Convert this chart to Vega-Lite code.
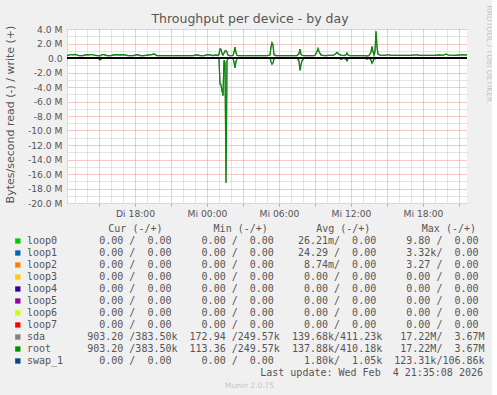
{
  "$schema": "https://vega.github.io/schema/vega-lite/v6.json",
  "background": "#F0F0F0",
  "padding": {"left": 3, "top": 5, "right": 0, "bottom": 0},
  "spacing": 5,
  "config": {
    "view": {"stroke": null},
    "font": "DejaVu Sans",
    "axis": {"labelFont": "DejaVu Sans", "titleFont": "DejaVu Sans", "labelColor": "#555555", "titleColor": "#555555"},
    "locale": {
      "number": {"decimal": ".", "thousands": ",", "grouping": [3], "currency": ["", " M"], "minus": "-"},
      "time": {"dateTime": "%A, %e. %B %Y, %X", "date": "%d.%m.%Y", "time": "%H:%M:%S", "periods": ["AM", "PM"],
        "days": ["Sonntag", "Montag", "Dienstag", "Mittwoch", "Donnerstag", "Freitag", "Samstag"],
        "shortDays": ["So", "Mo", "Di", "Mi", "Do", "Fr", "Sa"],
        "months": ["Januar", "Februar", "März", "April", "Mai", "Juni", "Juli", "August", "September", "Oktober", "November", "Dezember"],
        "shortMonths": ["Jan", "Feb", "Mrz", "Apr", "Mai", "Jun", "Jul", "Aug", "Sep", "Okt", "Nov", "Dez"]}
    }
  },
  "datasets": {
    "ioRows": [
      {"t": "2026-02-03T12:20:00Z", "read": -0.02, "write": 0.33},
      {"t": "2026-02-03T12:40:00Z", "read": -0.03, "write": 0.48},
      {"t": "2026-02-03T12:50:00Z", "read": -0.02, "write": 0.43},
      {"t": "2026-02-03T13:00:00Z", "read": -0.02, "write": 0.50},
      {"t": "2026-02-03T13:10:00Z", "read": -0.02, "write": 0.42},
      {"t": "2026-02-03T13:20:00Z", "read": -0.02, "write": 0.33},
      {"t": "2026-02-03T13:40:00Z", "read": -0.02, "write": 0.34},
      {"t": "2026-02-03T13:55:00Z", "read": -0.03, "write": 0.47},
      {"t": "2026-02-03T14:10:00Z", "read": -0.02, "write": 0.44},
      {"t": "2026-02-03T14:25:00Z", "read": -0.02, "write": 0.48},
      {"t": "2026-02-03T14:40:00Z", "read": -0.02, "write": 0.35},
      {"t": "2026-02-03T14:55:00Z", "read": -0.02, "write": 0.33},
      {"t": "2026-02-03T15:05:00Z", "read": -0.28, "write": 0.30},
      {"t": "2026-02-03T15:15:00Z", "read": -0.03, "write": 0.45},
      {"t": "2026-02-03T15:25:00Z", "read": -0.02, "write": 0.46},
      {"t": "2026-02-03T15:40:00Z", "read": -0.02, "write": 0.33},
      {"t": "2026-02-03T16:00:00Z", "read": -0.02, "write": 0.33},
      {"t": "2026-02-03T16:20:00Z", "read": -0.02, "write": 0.46},
      {"t": "2026-02-03T16:35:00Z", "read": -0.02, "write": 0.42},
      {"t": "2026-02-03T16:50:00Z", "read": -0.02, "write": 0.47},
      {"t": "2026-02-03T17:05:00Z", "read": -0.02, "write": 0.44},
      {"t": "2026-02-03T17:25:00Z", "read": -0.02, "write": 0.33},
      {"t": "2026-02-03T17:50:00Z", "read": -0.02, "write": 0.33},
      {"t": "2026-02-03T18:15:00Z", "read": -0.03, "write": 0.47},
      {"t": "2026-02-03T18:25:00Z", "read": -0.02, "write": 0.34},
      {"t": "2026-02-03T18:45:00Z", "read": -0.02, "write": 0.33},
      {"t": "2026-02-03T19:10:00Z", "read": -0.02, "write": 0.43},
      {"t": "2026-02-03T19:25:00Z", "read": -0.02, "write": 0.46},
      {"t": "2026-02-03T19:35:00Z", "read": -0.02, "write": 0.55},
      {"t": "2026-02-03T19:50:00Z", "read": -0.02, "write": 0.34},
      {"t": "2026-02-03T20:20:00Z", "read": -0.02, "write": 0.33},
      {"t": "2026-02-03T20:50:00Z", "read": -0.02, "write": 0.33},
      {"t": "2026-02-03T21:20:00Z", "read": -0.02, "write": 0.33},
      {"t": "2026-02-03T21:50:00Z", "read": -0.02, "write": 0.34},
      {"t": "2026-02-03T22:20:00Z", "read": -0.02, "write": 0.33},
      {"t": "2026-02-03T22:50:00Z", "read": -0.02, "write": 0.33},
      {"t": "2026-02-03T23:10:00Z", "read": -0.02, "write": 0.42},
      {"t": "2026-02-03T23:25:00Z", "read": -0.02, "write": 0.33},
      {"t": "2026-02-03T23:45:00Z", "read": -0.02, "write": 0.33},
      {"t": "2026-02-04T00:00:00Z", "read": -0.02, "write": 0.42},
      {"t": "2026-02-04T00:15:00Z", "read": -0.02, "write": 0.43},
      {"t": "2026-02-04T00:30:00Z", "read": -0.02, "write": 0.34},
      {"t": "2026-02-04T00:45:00Z", "read": -0.02, "write": 0.42},
      {"t": "2026-02-04T00:55:00Z", "read": -0.03, "write": 0.35},
      {"t": "2026-02-04T01:00:00Z", "read": -0.10, "write": 0.50},
      {"t": "2026-02-04T01:05:00Z", "read": -3.60, "write": 1.25},
      {"t": "2026-02-04T01:10:00Z", "read": -3.70, "write": 1.20},
      {"t": "2026-02-04T01:15:00Z", "read": -4.50, "write": 0.60},
      {"t": "2026-02-04T01:20:00Z", "read": -5.20, "write": 0.40},
      {"t": "2026-02-04T01:25:00Z", "read": -0.30, "write": 0.70},
      {"t": "2026-02-04T01:30:00Z", "read": -0.60, "write": 0.95},
      {"t": "2026-02-04T01:35:00Z", "read": -17.22, "write": 1.00},
      {"t": "2026-02-04T01:40:00Z", "read": -0.40, "write": 0.80},
      {"t": "2026-02-04T01:45:00Z", "read": -0.06, "write": 0.40},
      {"t": "2026-02-04T01:50:00Z", "read": -0.03, "write": 0.33},
      {"t": "2026-02-04T02:00:00Z", "read": -0.02, "write": 0.33},
      {"t": "2026-02-04T02:10:00Z", "read": -0.02, "write": 0.34},
      {"t": "2026-02-04T02:15:00Z", "read": -0.60, "write": 0.80},
      {"t": "2026-02-04T02:20:00Z", "read": -1.38, "write": 1.50},
      {"t": "2026-02-04T02:25:00Z", "read": -0.50, "write": 0.70},
      {"t": "2026-02-04T02:30:00Z", "read": -0.04, "write": 0.34},
      {"t": "2026-02-04T02:40:00Z", "read": -0.02, "write": 0.33},
      {"t": "2026-02-04T03:00:00Z", "read": -0.02, "write": 0.33},
      {"t": "2026-02-04T03:30:00Z", "read": -0.02, "write": 0.34},
      {"t": "2026-02-04T04:00:00Z", "read": -0.02, "write": 0.33},
      {"t": "2026-02-04T04:30:00Z", "read": -0.02, "write": 0.34},
      {"t": "2026-02-04T05:00:00Z", "read": -0.02, "write": 0.33},
      {"t": "2026-02-04T05:15:00Z", "read": -0.05, "write": 0.40},
      {"t": "2026-02-04T05:20:00Z", "read": -0.50, "write": 1.50},
      {"t": "2026-02-04T05:25:00Z", "read": -0.85, "write": 2.10},
      {"t": "2026-02-04T05:30:00Z", "read": -0.70, "write": 1.80},
      {"t": "2026-02-04T05:35:00Z", "read": -0.08, "write": 0.45},
      {"t": "2026-02-04T05:45:00Z", "read": -0.02, "write": 0.33},
      {"t": "2026-02-04T06:10:00Z", "read": -0.02, "write": 0.33},
      {"t": "2026-02-04T06:40:00Z", "read": -0.02, "write": 0.34},
      {"t": "2026-02-04T07:10:00Z", "read": -0.02, "write": 0.33},
      {"t": "2026-02-04T07:30:00Z", "read": -0.02, "write": 0.34},
      {"t": "2026-02-04T07:40:00Z", "read": -0.40, "write": 0.60},
      {"t": "2026-02-04T07:45:00Z", "read": -1.72, "write": 1.24},
      {"t": "2026-02-04T07:50:00Z", "read": -0.90, "write": 0.50},
      {"t": "2026-02-04T07:55:00Z", "read": -0.40, "write": 0.38},
      {"t": "2026-02-04T08:05:00Z", "read": -0.02, "write": 0.34},
      {"t": "2026-02-04T08:25:00Z", "read": -0.02, "write": 0.33},
      {"t": "2026-02-04T08:50:00Z", "read": -0.02, "write": 0.33},
      {"t": "2026-02-04T09:00:00Z", "read": -0.02, "write": 0.36},
      {"t": "2026-02-04T09:10:00Z", "read": -0.06, "write": 0.90},
      {"t": "2026-02-04T09:15:00Z", "read": -0.03, "write": 1.29},
      {"t": "2026-02-04T09:20:00Z", "read": -0.02, "write": 0.90},
      {"t": "2026-02-04T09:30:00Z", "read": -0.02, "write": 0.40},
      {"t": "2026-02-04T09:50:00Z", "read": -0.02, "write": 0.34},
      {"t": "2026-02-04T10:10:00Z", "read": -0.02, "write": 0.36},
      {"t": "2026-02-04T10:30:00Z", "read": -0.02, "write": 0.35},
      {"t": "2026-02-04T10:40:00Z", "read": -0.02, "write": 0.50},
      {"t": "2026-02-04T10:50:00Z", "read": -0.02, "write": 0.78},
      {"t": "2026-02-04T11:00:00Z", "read": -0.02, "write": 0.50},
      {"t": "2026-02-04T11:10:00Z", "read": -0.15, "write": 0.40},
      {"t": "2026-02-04T11:15:00Z", "read": -0.12, "write": 0.38},
      {"t": "2026-02-04T11:25:00Z", "read": -0.02, "write": 0.34},
      {"t": "2026-02-04T11:35:00Z", "read": -0.15, "write": 0.45},
      {"t": "2026-02-04T11:40:00Z", "read": -0.37, "write": 0.69},
      {"t": "2026-02-04T11:45:00Z", "read": -0.10, "write": 0.40},
      {"t": "2026-02-04T11:55:00Z", "read": -0.02, "write": 0.34},
      {"t": "2026-02-04T12:10:00Z", "read": -0.02, "write": 0.33},
      {"t": "2026-02-04T12:30:00Z", "read": -0.02, "write": 0.34},
      {"t": "2026-02-04T12:50:00Z", "read": -0.02, "write": 0.34},
      {"t": "2026-02-04T13:10:00Z", "read": -0.02, "write": 0.34},
      {"t": "2026-02-04T13:20:00Z", "read": -0.15, "write": 0.30},
      {"t": "2026-02-04T13:30:00Z", "read": -0.02, "write": 0.33},
      {"t": "2026-02-04T13:40:00Z", "read": -0.30, "write": 0.80},
      {"t": "2026-02-04T13:45:00Z", "read": -0.70, "write": 1.60},
      {"t": "2026-02-04T13:50:00Z", "read": -0.50, "write": 0.90},
      {"t": "2026-02-04T13:55:00Z", "read": -0.10, "write": 0.40},
      {"t": "2026-02-04T14:00:00Z", "read": -0.05, "write": 0.90},
      {"t": "2026-02-04T14:05:00Z", "read": -0.10, "write": 3.67},
      {"t": "2026-02-04T14:10:00Z", "read": -0.04, "write": 1.50},
      {"t": "2026-02-04T14:15:00Z", "read": -0.02, "write": 0.55},
      {"t": "2026-02-04T14:25:00Z", "read": -0.02, "write": 0.38},
      {"t": "2026-02-04T14:45:00Z", "read": -0.02, "write": 0.37},
      {"t": "2026-02-04T15:10:00Z", "read": -0.02, "write": 0.45},
      {"t": "2026-02-04T15:20:00Z", "read": -0.02, "write": 0.37},
      {"t": "2026-02-04T15:35:00Z", "read": -0.02, "write": 0.37},
      {"t": "2026-02-04T16:00:00Z", "read": -0.02, "write": 0.36},
      {"t": "2026-02-04T16:30:00Z", "read": -0.02, "write": 0.37},
      {"t": "2026-02-04T17:00:00Z", "read": -0.02, "write": 0.37},
      {"t": "2026-02-04T17:30:00Z", "read": -0.02, "write": 0.45},
      {"t": "2026-02-04T17:40:00Z", "read": -0.02, "write": 0.37},
      {"t": "2026-02-04T18:00:00Z", "read": -0.02, "write": 0.37},
      {"t": "2026-02-04T18:30:00Z", "read": -0.02, "write": 0.38},
      {"t": "2026-02-04T19:00:00Z", "read": -0.02, "write": 0.37},
      {"t": "2026-02-04T19:20:00Z", "read": -0.02, "write": 0.44},
      {"t": "2026-02-04T19:40:00Z", "read": -0.02, "write": 0.38},
      {"t": "2026-02-04T19:55:00Z", "read": -0.02, "write": 0.52},
      {"t": "2026-02-04T20:10:00Z", "read": -0.02, "write": 0.38},
      {"t": "2026-02-04T20:40:00Z", "read": -0.02, "write": 0.37},
      {"t": "2026-02-04T21:10:00Z", "read": -0.02, "write": 0.42},
      {"t": "2026-02-04T21:40:00Z", "read": -0.02, "write": 0.42}
    ],
    "legendRows": [
      {"row": 1, "swatch": "#00CC00", "line": "loop0\u00a0\u00a0\u00a0\u00a0\u00a0\u00a0\u00a00.00\u00a0/\u00a0\u00a00.00\u00a0\u00a0\u00a0\u00a0\u00a00.00\u00a0/\u00a0\u00a00.00\u00a0\u00a0\u00a0\u00a026.21m/\u00a0\u00a00.00\u00a0\u00a0\u00a0\u00a0\u00a09.80\u00a0/\u00a0\u00a00.00"},
      {"row": 2, "swatch": "#0066B3", "line": "loop1\u00a0\u00a0\u00a0\u00a0\u00a0\u00a0\u00a00.00\u00a0/\u00a0\u00a00.00\u00a0\u00a0\u00a0\u00a0\u00a00.00\u00a0/\u00a0\u00a00.00\u00a0\u00a0\u00a0\u00a024.29\u00a0/\u00a0\u00a00.00\u00a0\u00a0\u00a0\u00a0\u00a03.32k/\u00a0\u00a00.00"},
      {"row": 3, "swatch": "#FF8000", "line": "loop2\u00a0\u00a0\u00a0\u00a0\u00a0\u00a0\u00a00.00\u00a0/\u00a0\u00a00.00\u00a0\u00a0\u00a0\u00a0\u00a00.00\u00a0/\u00a0\u00a00.00\u00a0\u00a0\u00a0\u00a0\u00a08.74m/\u00a0\u00a00.00\u00a0\u00a0\u00a0\u00a0\u00a03.27\u00a0/\u00a0\u00a00.00"},
      {"row": 4, "swatch": "#FFCC00", "line": "loop3\u00a0\u00a0\u00a0\u00a0\u00a0\u00a0\u00a00.00\u00a0/\u00a0\u00a00.00\u00a0\u00a0\u00a0\u00a0\u00a00.00\u00a0/\u00a0\u00a00.00\u00a0\u00a0\u00a0\u00a0\u00a00.00\u00a0/\u00a0\u00a00.00\u00a0\u00a0\u00a0\u00a0\u00a00.00\u00a0/\u00a0\u00a00.00"},
      {"row": 5, "swatch": "#330099", "line": "loop4\u00a0\u00a0\u00a0\u00a0\u00a0\u00a0\u00a00.00\u00a0/\u00a0\u00a00.00\u00a0\u00a0\u00a0\u00a0\u00a00.00\u00a0/\u00a0\u00a00.00\u00a0\u00a0\u00a0\u00a0\u00a00.00\u00a0/\u00a0\u00a00.00\u00a0\u00a0\u00a0\u00a0\u00a00.00\u00a0/\u00a0\u00a00.00"},
      {"row": 6, "swatch": "#990099", "line": "loop5\u00a0\u00a0\u00a0\u00a0\u00a0\u00a0\u00a00.00\u00a0/\u00a0\u00a00.00\u00a0\u00a0\u00a0\u00a0\u00a00.00\u00a0/\u00a0\u00a00.00\u00a0\u00a0\u00a0\u00a0\u00a00.00\u00a0/\u00a0\u00a00.00\u00a0\u00a0\u00a0\u00a0\u00a00.00\u00a0/\u00a0\u00a00.00"},
      {"row": 7, "swatch": "#CCFF00", "line": "loop6\u00a0\u00a0\u00a0\u00a0\u00a0\u00a0\u00a00.00\u00a0/\u00a0\u00a00.00\u00a0\u00a0\u00a0\u00a0\u00a00.00\u00a0/\u00a0\u00a00.00\u00a0\u00a0\u00a0\u00a0\u00a00.00\u00a0/\u00a0\u00a00.00\u00a0\u00a0\u00a0\u00a0\u00a00.00\u00a0/\u00a0\u00a00.00"},
      {"row": 8, "swatch": "#FF0000", "line": "loop7\u00a0\u00a0\u00a0\u00a0\u00a0\u00a0\u00a00.00\u00a0/\u00a0\u00a00.00\u00a0\u00a0\u00a0\u00a0\u00a00.00\u00a0/\u00a0\u00a00.00\u00a0\u00a0\u00a0\u00a0\u00a00.00\u00a0/\u00a0\u00a00.00\u00a0\u00a0\u00a0\u00a0\u00a00.00\u00a0/\u00a0\u00a00.00"},
      {"row": 9, "swatch": "#808080", "line": "sda\u00a0\u00a0\u00a0\u00a0\u00a0\u00a0\u00a0903.20\u00a0/383.50k\u00a0\u00a0172.94\u00a0/249.57k\u00a0\u00a0139.68k/411.23k\u00a0\u00a0\u00a017.22M/\u00a0\u00a03.67M"},
      {"row": 10, "swatch": "#008F00", "line": "root\u00a0\u00a0\u00a0\u00a0\u00a0\u00a0903.20\u00a0/383.50k\u00a0\u00a0113.36\u00a0/249.57k\u00a0\u00a0137.88k/410.18k\u00a0\u00a0\u00a017.22M/\u00a0\u00a03.67M"},
      {"row": 11, "swatch": "#00487D", "line": "swap_1\u00a0\u00a0\u00a0\u00a0\u00a0\u00a00.00\u00a0/\u00a0\u00a00.00\u00a0\u00a0\u00a0\u00a0\u00a00.00\u00a0/\u00a0\u00a00.00\u00a0\u00a0\u00a0\u00a0\u00a01.80k/\u00a0\u00a01.05k\u00a0\u00a0123.31k/106.86k"}
    ],
    "headerRows": [
      {"label": "Cur (-/+)", "col": 13.55, "row": 0},
      {"label": "Min (-/+)", "col": 31.1, "row": 0},
      {"label": "Avg (-/+)", "col": 48.2, "row": 0},
      {"label": "Max (-/+)", "col": 65.8, "row": 0}
    ]
  },
  "vconcat": [
    {
      "width": 400,
      "height": 174,
      "view": {"fill": "#FFFFFF", "stroke": null},
      "title": {"text": "Throughput per device - by day", "font": "DejaVu Sans", "fontSize": 12.5, "fontWeight": "normal", "color": "#555555", "dx": -17, "offset": -20},
      "data": {"name": "ioRows"},
      "layer": [
        {
          "mark": {"type": "line", "color": "#808080", "strokeWidth": 1.2},
          "encoding": {
            "x": {"field": "t", "type": "temporal",
              "scale": {"type": "utc", "domain": [1770121200000, 1770241200000]},
              "axis": {"orient": "bottom", "grid": false, "ticks": false, "domain": false, "title": null,
                "values": [1770141600000, 1770163200000, 1770184800000, 1770206400000, 1770228000000],
                "format": "%a %H:%M", "labelFontSize": 9.2, "labelPadding": 6, "labelFlush": false, "labelOverlap": false}},
            "y": {"field": "write", "type": "quantitative",
              "scale": {"domain": [-20, 4], "nice": false, "zero": false},
              "axis": {"orient": "right", "grid": true, "gridColor": "#C8C8C8", "gridDash": [1, 1],
                "values": [-19, -17, -15, -13, -11, -9, -7, -5, -3, -1, 1, 3], "labels": false, "ticks": false, "domain": false,
                "title": "RRDTOOL / TOBI OETIKER", "titleFont": "DejaVu Sans", "titleFontSize": 7.5, "titleFontWeight": "normal", "titleColor": "#C4C4C4", "titleAngle": 90, "titleAlign": "left", "titleBaseline": "middle", "titleX": 21, "titleY": -24}}
          }
        },
        {
          "mark": {"type": "line", "color": "#808080", "strokeWidth": 1.2},
          "encoding": {
            "x": {"field": "t", "type": "temporal",
              "axis": {"orient": "bottom", "grid": true, "gridColor": "#C8C8C8", "gridDash": [1, 1], "labels": false, "ticks": false, "domain": false, "title": null,
                "values": [1770123600000, 1770127200000, 1770134400000, 1770138000000, 1770145200000, 1770148800000, 1770156000000, 1770159600000, 1770166800000, 1770170400000, 1770177600000, 1770181200000, 1770188400000, 1770192000000, 1770199200000, 1770202800000, 1770210000000, 1770213600000, 1770220800000, 1770224400000, 1770231600000, 1770235200000]}},
            "y": {"field": "read", "type": "quantitative",
              "axis": {"orient": "left", "grid": true, "gridColor": "#E89090", "gridDash": [1, 1],
                "values": [-20, -18, -16, -14, -12, -10, -8, -6, -4, -2, 2, 4], "format": "$.1f",
                "labelFontSize": 9.2, "labelPadding": 5, "labelFlush": false, "labelOverlap": false,
                "ticks": false, "domain": true, "domainColor": "#CFD6F8", "domainWidth": 1,
                "title": "Bytes/second read (-) / write (+)", "titleFontSize": 11, "titleFontWeight": "normal", "titleX": -57, "titleY": 85, "titleBaseline": "middle"}}
          }
        },
        {
          "mark": {"type": "line", "color": "#008F00", "strokeWidth": 1.2},
          "encoding": {
            "x": {"field": "t", "type": "temporal",
              "axis": {"orient": "bottom", "grid": true, "gridColor": "#E89090", "gridDash": [1, 1], "labels": false, "title": null,
                "values": [1770130800000, 1770141600000, 1770152400000, 1770163200000, 1770174000000, 1770184800000, 1770195600000, 1770206400000, 1770217200000, 1770228000000, 1770238800000],
                "ticks": true, "tickColor": "#E89090", "tickSize": 3, "domain": true, "domainColor": "#CFD6F8", "domainWidth": 1}},
            "y": {"field": "write", "type": "quantitative", "axis": null}
          }
        },
        {
          "mark": {"type": "line", "color": "#008F00", "strokeWidth": 1.2},
          "encoding": {
            "x": {"field": "t", "type": "temporal", "axis": null},
            "y": {"field": "read", "type": "quantitative", "axis": null}
          }
        },
        {
          "mark": {"type": "rule", "color": "#000000", "strokeWidth": 1.5},
          "encoding": {"y": {"datum": 0, "type": "quantitative",
            "axis": {"orient": "left", "values": [0], "format": ".1f", "grid": false, "ticks": false, "domain": false, "labelFontSize": 9.2, "labelPadding": 5, "title": null}}}
        }
      ],
      "resolve": {"axis": {"x": "independent", "y": "independent"}}
    },
    {
      "width": 400,
      "height": 170,
      "layer": [
        {
          "data": {"name": "headerRows"},
          "mark": {"type": "text", "font": "DejaVu Sans Mono", "fontSize": 10, "align": "left", "baseline": "middle", "color": "#555555"},
          "encoding": {
            "x": {"field": "col", "type": "quantitative", "scale": {"domain": [6.667, 73.333], "nice": false, "zero": false}, "axis": null},
            "y": {"field": "row", "type": "quantitative", "scale": {"domain": [0, 14.1667], "nice": false, "zero": false, "reverse": true}, "axis": null},
            "text": {"field": "label"}
          }
        },
        {
          "data": {"name": "legendRows"},
          "mark": {"type": "square", "size": 28, "filled": true, "opacity": 1},
          "encoding": {
            "x": {"datum": -1.53, "type": "quantitative"},
            "y": {"field": "row", "type": "quantitative"},
            "color": {"field": "swatch", "type": "nominal", "scale": null}
          }
        },
        {
          "data": {"name": "legendRows"},
          "mark": {"type": "text", "font": "DejaVu Sans Mono", "fontSize": 10, "align": "left", "baseline": "middle", "color": "#555555"},
          "encoding": {"x": {"datum": 0, "type": "quantitative"}, "y": {"field": "row", "type": "quantitative"}, "text": {"field": "line"}}
        },
        {
          "data": {"values": [{"label": "Last update: Wed Feb\u00a0\u00a04 21:35:08 2026", "col": 76, "row": 12}]},
          "mark": {"type": "text", "font": "DejaVu Sans Mono", "fontSize": 10, "align": "right", "baseline": "middle", "color": "#555555"},
          "encoding": {"x": {"field": "col", "type": "quantitative"}, "y": {"field": "row", "type": "quantitative"}, "text": {"field": "label"}}
        },
        {
          "data": {"values": [{"label": "Munin 2.0.75", "col": 37.1, "row": 13.06}]},
          "mark": {"type": "text", "font": "DejaVu Sans", "fontSize": 7.5, "align": "center", "baseline": "middle", "color": "#C4C4C4"},
          "encoding": {"x": {"field": "col", "type": "quantitative"}, "y": {"field": "row", "type": "quantitative"}, "text": {"field": "label"}}
        }
      ]
    }
  ]
}
